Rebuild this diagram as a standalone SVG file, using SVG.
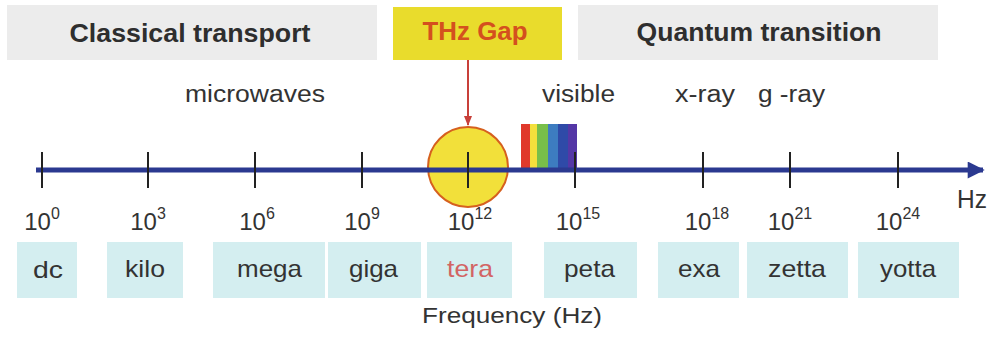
<svg xmlns="http://www.w3.org/2000/svg" width="992" height="338" viewBox="0 0 992 338">
  <defs>
    <style>
      text { font-family: "Liberation Sans", Arial, Helvetica, sans-serif; fill: #333333; }
      .band { fill: #ececec; }
      .band-label { font-size: 25px; font-weight: bold; text-anchor: middle; fill: #2e2e2e; }
      .region { font-size: 23px; }
      .tick { stroke: #222222; stroke-width: 2; }
      .exp { font-size: 24px; text-anchor: middle; }
      .exp tspan { font-size: 16px; }
      .prefix-box { fill: #d4eef0; }
      .prefix { font-size: 24px; }
    </style>
    <marker id="axisHead" viewBox="0 0 10 10" refX="9" refY="5" markerWidth="4.2" markerHeight="3.4" orient="auto" markerUnits="strokeWidth">
      <path d="M0,0 L10,5 L0,10 Z" fill="#2b3990"/>
    </marker>
    <marker id="gapHead" viewBox="0 0 10 10" refX="9" refY="5" markerWidth="5" markerHeight="5" orient="auto" markerUnits="strokeWidth">
      <path d="M0,1 L10,5 L0,9 Z" fill="#c8403a"/>
    </marker>
  </defs>

  <!-- header bands -->
  <g id="classical-transport">
    <rect class="band" x="7" y="5" width="370" height="55"/>
    <text class="band-label" x="190" y="42" textLength="241" lengthAdjust="spacingAndGlyphs">Classical transport</text>
  </g>
  <g id="thz-gap">
    <rect x="393" y="7" width="169" height="53" fill="#e9dc2c"/>
    <text class="band-label" x="475" y="40" textLength="105" lengthAdjust="spacingAndGlyphs" style="fill:#d4501e">THz Gap</text>
  </g>
  <g id="quantum-transition">
    <rect class="band" x="578" y="5" width="360" height="55"/>
    <text class="band-label" x="759" y="41" textLength="245" lengthAdjust="spacingAndGlyphs">Quantum transition</text>
  </g>

  <!-- region names above the axis -->
  <g id="regions">
    <text class="region" x="185" y="102" textLength="140" lengthAdjust="spacingAndGlyphs">microwaves</text>
    <text class="region" x="542" y="102" textLength="73" lengthAdjust="spacingAndGlyphs">visible</text>
    <text class="region" x="675" y="102" textLength="60" lengthAdjust="spacingAndGlyphs">x-ray</text>
    <text class="region" x="758" y="102" textLength="67" lengthAdjust="spacingAndGlyphs">g -ray</text>
  </g>

  <!-- visible spectrum strip -->
  <g id="visible-spectrum">
    <rect x="521" y="124" width="9" height="46" fill="#e0392b"/>
    <rect x="530" y="124" width="7" height="46" fill="#f4e03c"/>
    <rect x="537" y="124" width="11" height="46" fill="#78bf4a"/>
    <rect x="548" y="124" width="10" height="46" fill="#3d7cc0"/>
    <rect x="558" y="124" width="10" height="46" fill="#2f4aa8"/>
    <rect x="568" y="124" width="9" height="46" fill="#5437a6"/>
  </g>

  <!-- terahertz marker circle -->
  <g id="thz-circle">
    <circle cx="468" cy="167" r="40" fill="#f2e03a" stroke="#d6601e" stroke-width="2"/>
  </g>

  <!-- connectors: frequency axis and gap pointer -->
  <g id="connectors">
    <line x1="36" y1="170" x2="983" y2="170" stroke="#2b3990" stroke-width="5" marker-end="url(#axisHead)"/>
    <line x1="468" y1="60" x2="468" y2="125" stroke="#c8403a" stroke-width="2" marker-end="url(#gapHead)"/>
  </g>

  <!-- decade ticks -->
  <g id="ticks">
    <line class="tick" x1="42" y1="152" x2="42" y2="188"/>
    <line class="tick" x1="148" y1="152" x2="148" y2="188"/>
    <line class="tick" x1="255" y1="152" x2="255" y2="188"/>
    <line class="tick" x1="362" y1="152" x2="362" y2="188"/>
    <line class="tick" x1="468" y1="152" x2="468" y2="188"/>
    <line class="tick" x1="575" y1="152" x2="575" y2="188"/>
    <line class="tick" x1="703" y1="152" x2="703" y2="188"/>
    <line class="tick" x1="790" y1="152" x2="790" y2="188"/>
    <line class="tick" x1="898" y1="152" x2="898" y2="188"/>
  </g>

  <g id="unit-label">
    <text x="957" y="208" font-size="25" textLength="30" lengthAdjust="spacingAndGlyphs">Hz</text>
  </g>

  <!-- powers of ten -->
  <g id="exponents">
    <text class="exp" x="42" y="230">10<tspan dy="-11">0</tspan></text>
    <text class="exp" x="148" y="230">10<tspan dy="-11">3</tspan></text>
    <text class="exp" x="257" y="230">10<tspan dy="-11">6</tspan></text>
    <text class="exp" x="362" y="230">10<tspan dy="-11">9</tspan></text>
    <text class="exp" x="470" y="230">10<tspan dy="-11">12</tspan></text>
    <text class="exp" x="578" y="230">10<tspan dy="-11">15</tspan></text>
    <text class="exp" x="707" y="230">10<tspan dy="-11">18</tspan></text>
    <text class="exp" x="790" y="230">10<tspan dy="-11">21</tspan></text>
    <text class="exp" x="898" y="230">10<tspan dy="-11">24</tspan></text>
  </g>

  <!-- SI prefix boxes -->
  <g id="prefix-dc">
    <rect class="prefix-box" x="17" y="242" width="60" height="56"/>
    <text class="prefix" x="33" y="278" textLength="30" lengthAdjust="spacingAndGlyphs">dc</text>
  </g>
  <g id="prefix-kilo">
    <rect class="prefix-box" x="107" y="242" width="76" height="56"/>
    <text class="prefix" x="125" y="277" textLength="40" lengthAdjust="spacingAndGlyphs">kilo</text>
  </g>
  <g id="prefix-mega">
    <rect class="prefix-box" x="213" y="242" width="112" height="56"/>
    <text class="prefix" x="237" y="277" textLength="65" lengthAdjust="spacingAndGlyphs">mega</text>
  </g>
  <g id="prefix-giga">
    <rect class="prefix-box" x="328" y="242" width="93" height="56"/>
    <text class="prefix" x="349" y="277" textLength="49" lengthAdjust="spacingAndGlyphs">giga</text>
  </g>
  <g id="prefix-tera">
    <rect class="prefix-box" x="427" y="242" width="85" height="56"/>
    <text class="prefix" x="447" y="277" textLength="46" lengthAdjust="spacingAndGlyphs" style="fill:#d26464">tera</text>
  </g>
  <g id="prefix-peta">
    <rect class="prefix-box" x="544" y="242" width="93" height="56"/>
    <text class="prefix" x="564" y="277" textLength="51" lengthAdjust="spacingAndGlyphs">peta</text>
  </g>
  <g id="prefix-exa">
    <rect class="prefix-box" x="658" y="242" width="81" height="56"/>
    <text class="prefix" x="678" y="277" textLength="42" lengthAdjust="spacingAndGlyphs">exa</text>
  </g>
  <g id="prefix-zetta">
    <rect class="prefix-box" x="747" y="242" width="101" height="56"/>
    <text class="prefix" x="768" y="277" textLength="58" lengthAdjust="spacingAndGlyphs">zetta</text>
  </g>
  <g id="prefix-yotta">
    <rect class="prefix-box" x="858" y="242" width="101" height="56"/>
    <text class="prefix" x="880" y="277" textLength="56" lengthAdjust="spacingAndGlyphs">yotta</text>
  </g>

  <g id="axis-title">
    <text x="422" y="323" font-size="22" textLength="180" lengthAdjust="spacingAndGlyphs">Frequency (Hz)</text>
  </g>
</svg>
